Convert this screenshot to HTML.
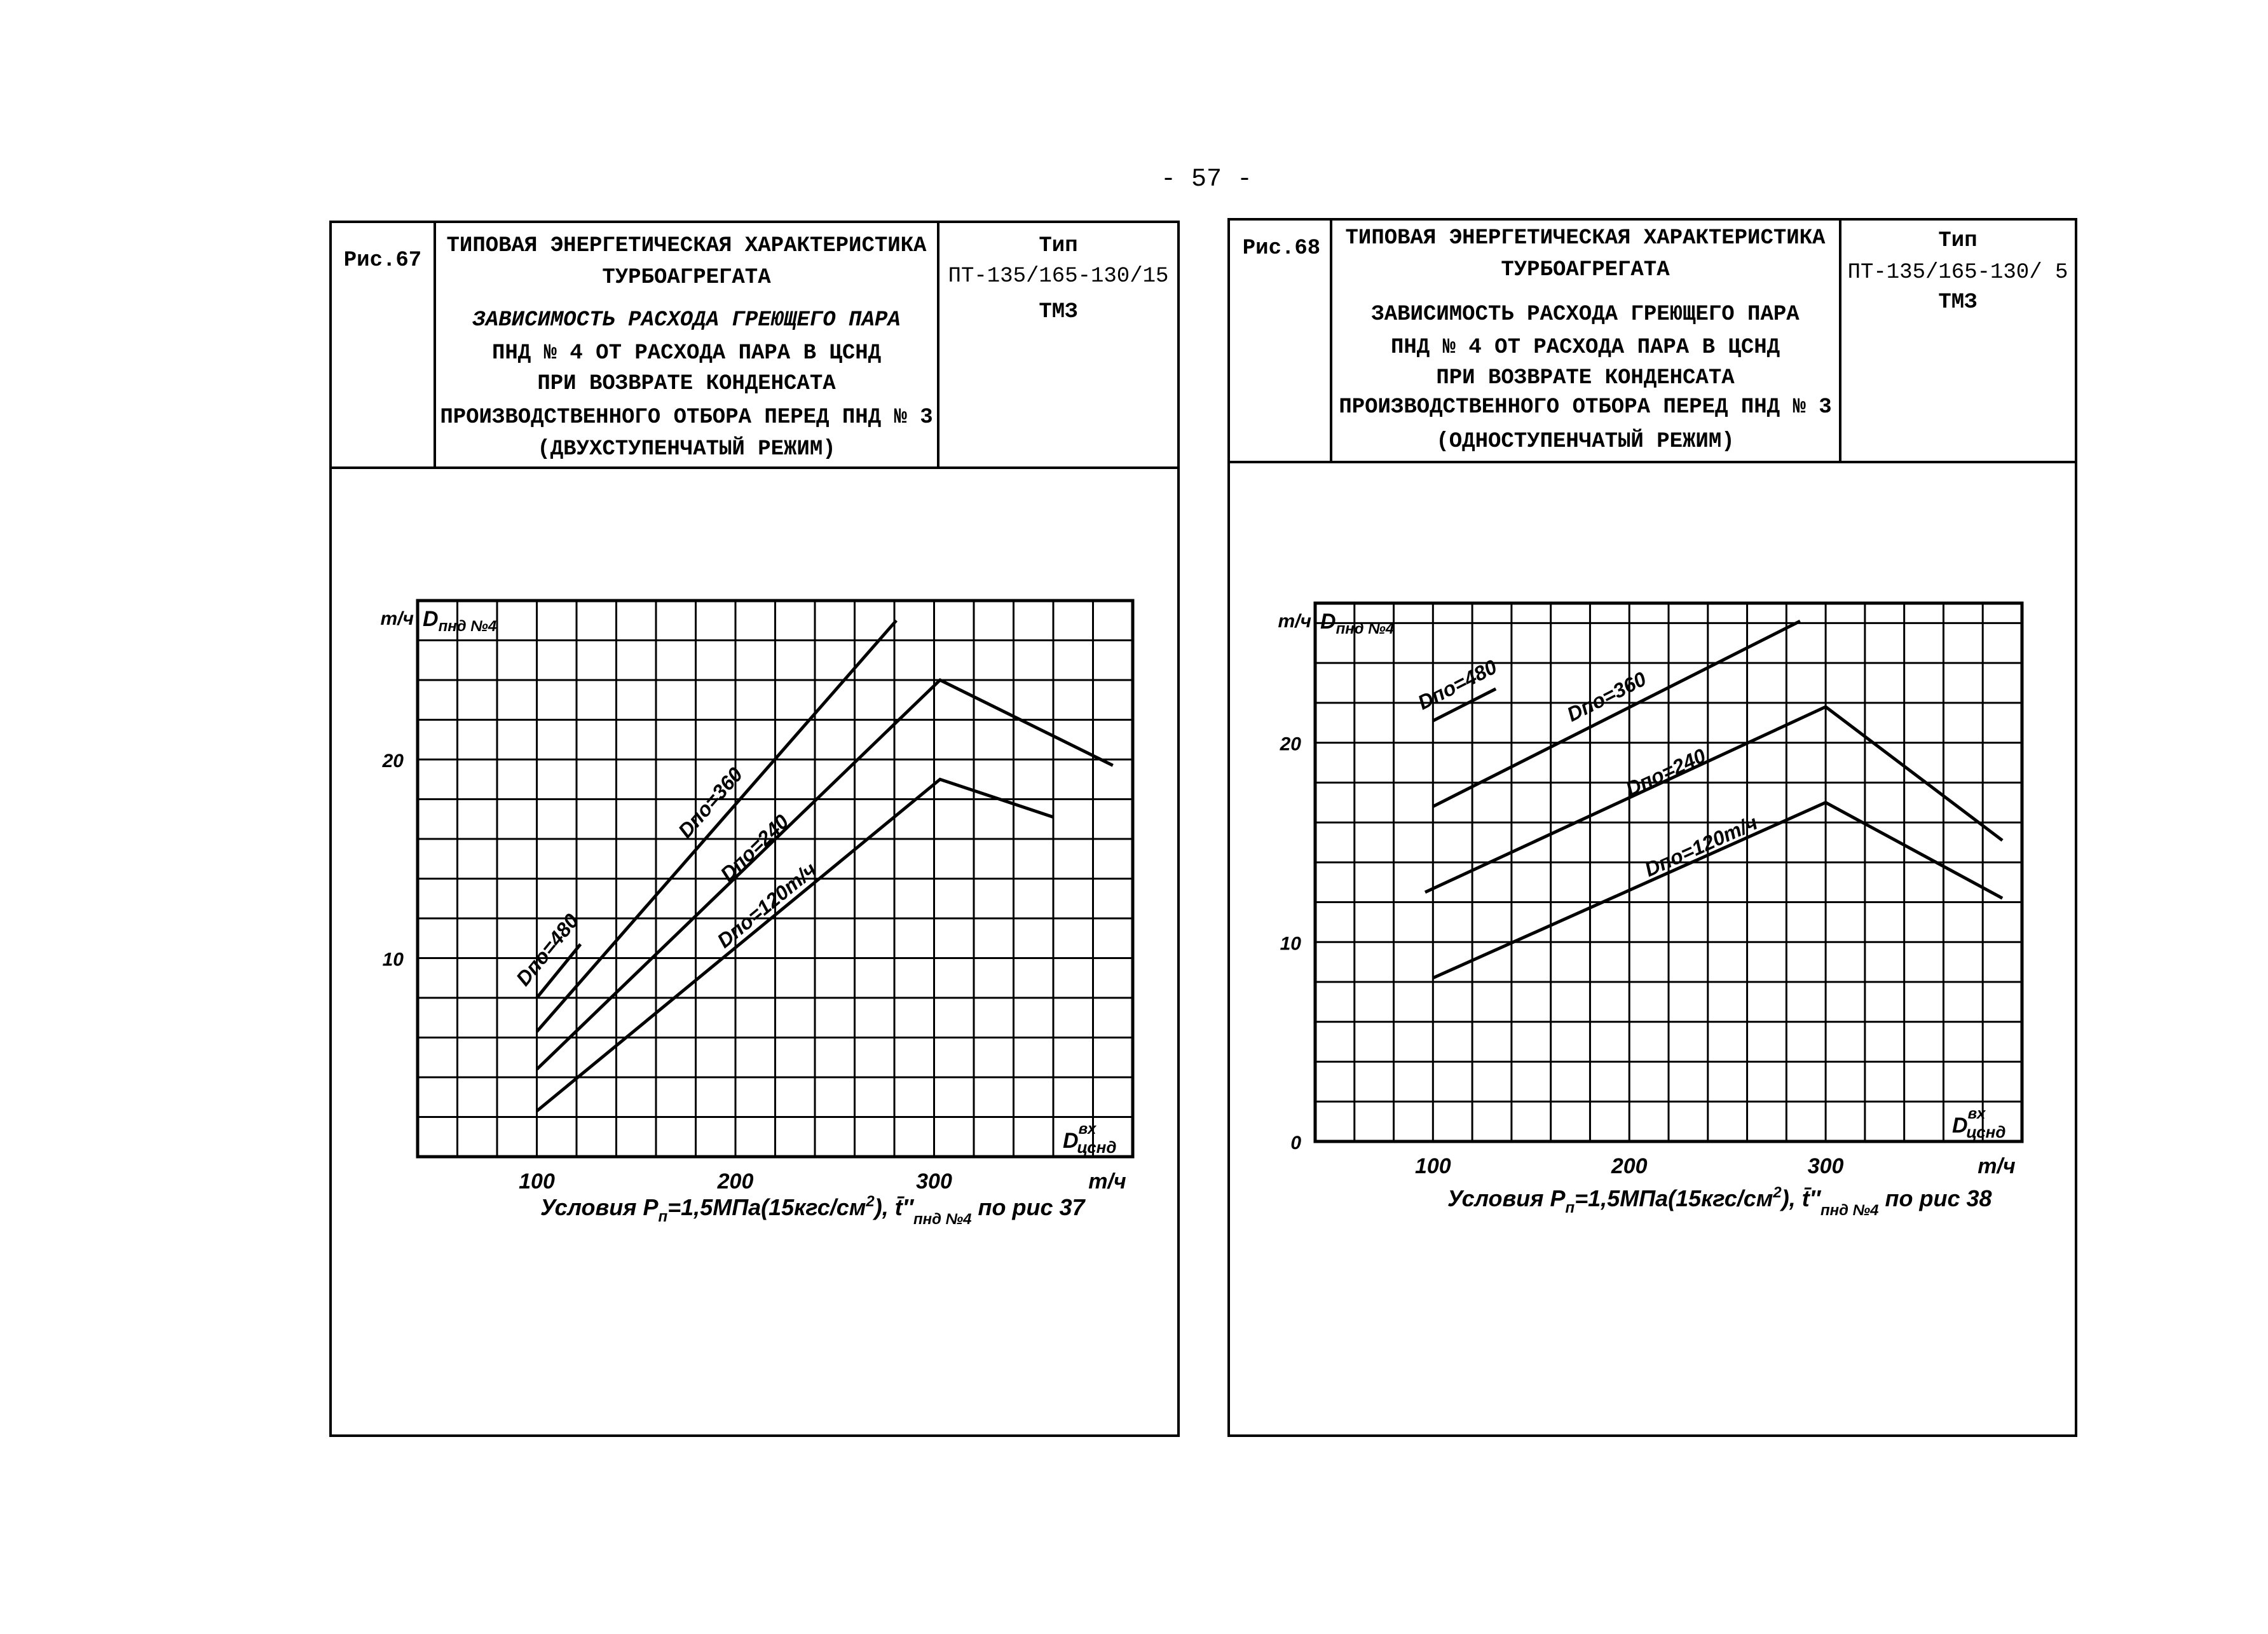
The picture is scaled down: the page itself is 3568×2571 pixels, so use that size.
<!DOCTYPE html>
<html><head><meta charset="utf-8">
<style>
html,body{margin:0;padding:0;background:#fff;}
svg{display:block;}
text{font-family:"Liberation Mono","Noto Sans CJK SC",monospace;fill:#000;}
.hd{font-size:34px;font-weight:bold;}
.it{font-family:"Liberation Sans","Noto Sans CJK SC",sans-serif;font-style:italic;font-weight:bold;}
</style></head>
<body>
<svg id="page" width="3568" height="2571" viewBox="0 0 3568 2571" xmlns="http://www.w3.org/2000/svg">
<text x="1898" y="292" text-anchor="middle" style="font-size:40px">- 57 -</text>

<g fill="none" stroke="#000" stroke-width="4">
<rect x="520" y="349" width="1334" height="1910"/>
<line x1="520" y1="736" x2="1854" y2="736"/>
<line x1="684" y1="349" x2="684" y2="736"/>
<line x1="1476" y1="349" x2="1476" y2="736"/>
</g>
<g class="hd" text-anchor="middle">
<text x="602" y="418">Рис.67</text>
<text x="1080" y="395">ТИПОВАЯ ЭНЕРГЕТИЧЕСКАЯ ХАРАКТЕРИСТИКА</text>
<text x="1080" y="445">ТУРБОАГРЕГАТА</text>
<text x="1080" y="512" style="font-style:italic">ЗАВИСИМОСТЬ РАСХОДА ГРЕЮЩЕГО ПАРА</text>
<text x="1080" y="564">ПНД № 4 ОТ РАСХОДА ПАРА В ЦСНД</text>
<text x="1080" y="612">ПРИ ВОЗВРАТЕ КОНДЕНСАТА</text>
<text x="1080" y="665">ПРОИЗВОДСТВЕННОГО ОТБОРА ПЕРЕД ПНД № 3</text>
<text x="1080" y="715">(ДВУХСТУПЕНЧАТЫЙ РЕЖИМ)</text>
<text x="1665" y="395">Тип</text>
<text x="1665" y="443" style="font-weight:normal">ПТ-135/165-130/15</text>
<text x="1665" y="499">ТМЗ</text>
</g>

<g fill="none" stroke="#000" stroke-width="4">
<rect x="1933" y="345" width="1333" height="1914"/>
<line x1="1933" y1="727" x2="3266" y2="727"/>
<line x1="2094" y1="345" x2="2094" y2="727"/>
<line x1="2895" y1="345" x2="2895" y2="727"/>
</g>
<g class="hd" text-anchor="middle">
<text x="2016" y="399">Рис.68</text>
<text x="2494" y="383">ТИПОВАЯ ЭНЕРГЕТИЧЕСКАЯ ХАРАКТЕРИСТИКА</text>
<text x="2494" y="433">ТУРБОАГРЕГАТА</text>
<text x="2494" y="503">ЗАВИСИМОСТЬ РАСХОДА ГРЕЮЩЕГО ПАРА</text>
<text x="2494" y="555">ПНД № 4 ОТ РАСХОДА ПАРА В ЦСНД</text>
<text x="2494" y="603">ПРИ ВОЗВРАТЕ КОНДЕНСАТА</text>
<text x="2494" y="649">ПРОИЗВОДСТВЕННОГО ОТБОРА ПЕРЕД ПНД № 3</text>
<text x="2494" y="703">(ОДНОСТУПЕНЧАТЫЙ РЕЖИМ)</text>
<text x="3080" y="387">Тип</text>
<text x="3080" y="437" style="font-weight:normal">ПТ-135/165-130/ 5</text>
<text x="3080" y="484">ТМЗ</text>
</g>

<g id="c67"></g>
<g id="c68"></g>
</svg>
<script>
// ---- Data: Fig.67 (двухступенчатый) ----
const xTicks = [100, 200, 300];
const f67_x480 = [100, 122];
const f67_y480 = [8.0, 10.7];
const f67_x360 = [100, 281];
const f67_y360 = [6.3, 27.0];
const f67_x240 = [100, 303, 390];
const f67_y240 = [4.4, 24.0, 19.7];
const f67_x120 = [100, 303, 360];
const f67_y120 = [2.3, 19.0, 17.1];
const f67_yTicks = [10, 20];
const f67_labels = ["Dпо=480", "Dпо=360", "Dпо=240", "Dпо=120т/ч"];
// ---- Data: Fig.68 (одноступенчатый) ----
const f68_x480 = [100, 132];
const f68_y480 = [21.1, 22.7];
const f68_x360 = [100, 287];
const f68_y360 = [16.8, 26.1];
const f68_x240 = [96, 300, 390];
const f68_y240 = [12.5, 21.8, 15.1];
const f68_x120 = [100, 300, 390];
const f68_y120 = [8.2, 17.0, 12.2];
const f68_yTicks = [0, 10, 20];
const f68_labels = ["Dпо=480", "Dпо=360", "Dпо=240", "Dпо=120т/ч"];

const NS = "http://www.w3.org/2000/svg";
function mk(tag, attrs, parent){
  const e = document.createElementNS(NS, tag);
  for (const k in attrs) e.setAttribute(k, attrs[k]);
  parent.appendChild(e); return e;
}

function drawChart(g, cfg){
  const sx = v => cfg.left + (v - cfg.xmin) / (cfg.xmax - cfg.xmin) * (cfg.right - cfg.left);
  const sy = v => cfg.bottom - (v - cfg.ymin) / (cfg.ymax - cfg.ymin) * (cfg.bottom - cfg.top);
  for (let v = cfg.xmin + 20; v < cfg.xmax; v += 20){
    const l = mk("line", {x1:sx(v), x2:sx(v), y1:cfg.top, y2:cfg.bottom, stroke:"#000", "stroke-width":3}, g);
    
    
  }
  for (let v = cfg.ymin + 2; v < cfg.ymax; v += 2){
    const l = mk("line", {x1:cfg.left, x2:cfg.right, y1:sy(v), y2:sy(v), stroke:"#000", "stroke-width":3}, g);
    
    
  }
  const fr = mk("rect", {x:cfg.left, y:cfg.top, width:cfg.right-cfg.left, height:cfg.bottom-cfg.top, fill:"none", stroke:"#000", "stroke-width":5}, g);
  
  
  xTicks.forEach(v => {
    const t = mk("text", {x:sx(v), y:cfg.bottom+50, "text-anchor":"middle", class:"it", "font-size":34}, g);
    t.textContent = v;
    
    
  });
  const xu = mk("text", {x:cfg.right-40, y:cfg.bottom+50, "text-anchor":"middle", class:"it", "font-size":34}, g);
  xu.textContent = "т/ч";
  
  
  cfg.yTicks.forEach(v => {
    const t = mk("text", {x:cfg.left-22, y:sy(v)+12, "text-anchor":"end", class:"it", "font-size":30}, g);
    t.textContent = v;
    
    
  });
  const yu = mk("text", {x:cfg.left-6, y:cfg.top+38, "text-anchor":"end", class:"it", "font-size":30}, g);
  yu.textContent = "т/ч";
  
  
  const yt = mk("text", {x:cfg.left+8, y:cfg.top+40, class:"it", "font-size":34}, g);
  yt.innerHTML = 'D<tspan font-size="24" dy="8">пнд №4</tspan>';
  
  
  const xt = mk("text", {x:cfg.right-110, y:cfg.bottom-14, class:"it", "font-size":34}, g);
  xt.innerHTML = 'D<tspan font-size="24" dy="-22">вх</tspan><tspan font-size="26" dx="-30" dy="30">цснд</tspan>';
  
  
  cfg.series.forEach((s, i) => {
    const pts = s.x.map((xv, j) => sx(xv) + "," + sy(s.y[j])).join(" ");
    const pl = mk("polyline", {points:pts, fill:"none", stroke:"#000", "stroke-width":5}, g);
    
    
    const x0 = sx(s.x[0]), y0 = sy(s.y[0]), x1 = sx(s.x[1]), y1 = sy(s.y[1]);
    const ang = Math.atan2(y1 - y0, x1 - x0) * 180 / Math.PI;
    const lx = sx(cfg.labelAt[i][0]), ly = sy(cfg.labelAt[i][1]);
    const t = mk("text", {x:lx, y:ly, "text-anchor":"middle", class:"it", "font-size":32,
      transform:"rotate(" + ang + " " + lx + " " + ly + ")"}, g);
    t.textContent = cfg.labels[i];
    
    
  });
  const c = mk("text", {x:cfg.condX, y:cfg.condY, class:"it", "font-size":36}, g);
  c.innerHTML = 'Условия  P<tspan font-size="24" dy="10">п</tspan><tspan dy="-10">=1,5МПа(15кгс/см</tspan><tspan font-size="24" dy="-14">2</tspan><tspan dy="14">),  t̄″</tspan><tspan font-size="24" dy="14">пнд №4</tspan><tspan dy="-14"> по рис ' + cfg.ris + '</tspan>';
  
  
}

drawChart(document.getElementById("c67"), {
  left:657, right:1782, top:945, bottom:1820, xmin:40, xmax:400, ymin:0, ymax:28,
  yTicks:f67_yTicks, labels:f67_labels, ris:37, condX:850, condY:1912,
  series:[{name:"480",x:f67_x480,y:f67_y480},{name:"360",x:f67_x360,y:f67_y360},
          {name:"240",x:f67_x240,y:f67_y240},{name:"120",x:f67_x120,y:f67_y120}],
  labelAt:[[108,10.2],[190,17.6],[212,15.3],[218,12.4]]
});
drawChart(document.getElementById("c68"), {
  left:2069, right:3181, top:949, bottom:1796, xmin:40, xmax:400, ymin:0, ymax:27,
  yTicks:f68_yTicks, labels:f68_labels, ris:38, condX:2277, condY:1898,
  series:[{name:"480",x:f68_x480,y:f68_y480},{name:"360",x:f68_x360,y:f68_y360},
          {name:"240",x:f68_x240,y:f68_y240},{name:"120",x:f68_x120,y:f68_y120}],
  labelAt:[[114,22.6],[190,22.0],[220,18.2],[238,14.5]]
});
</script>
</body></html>
